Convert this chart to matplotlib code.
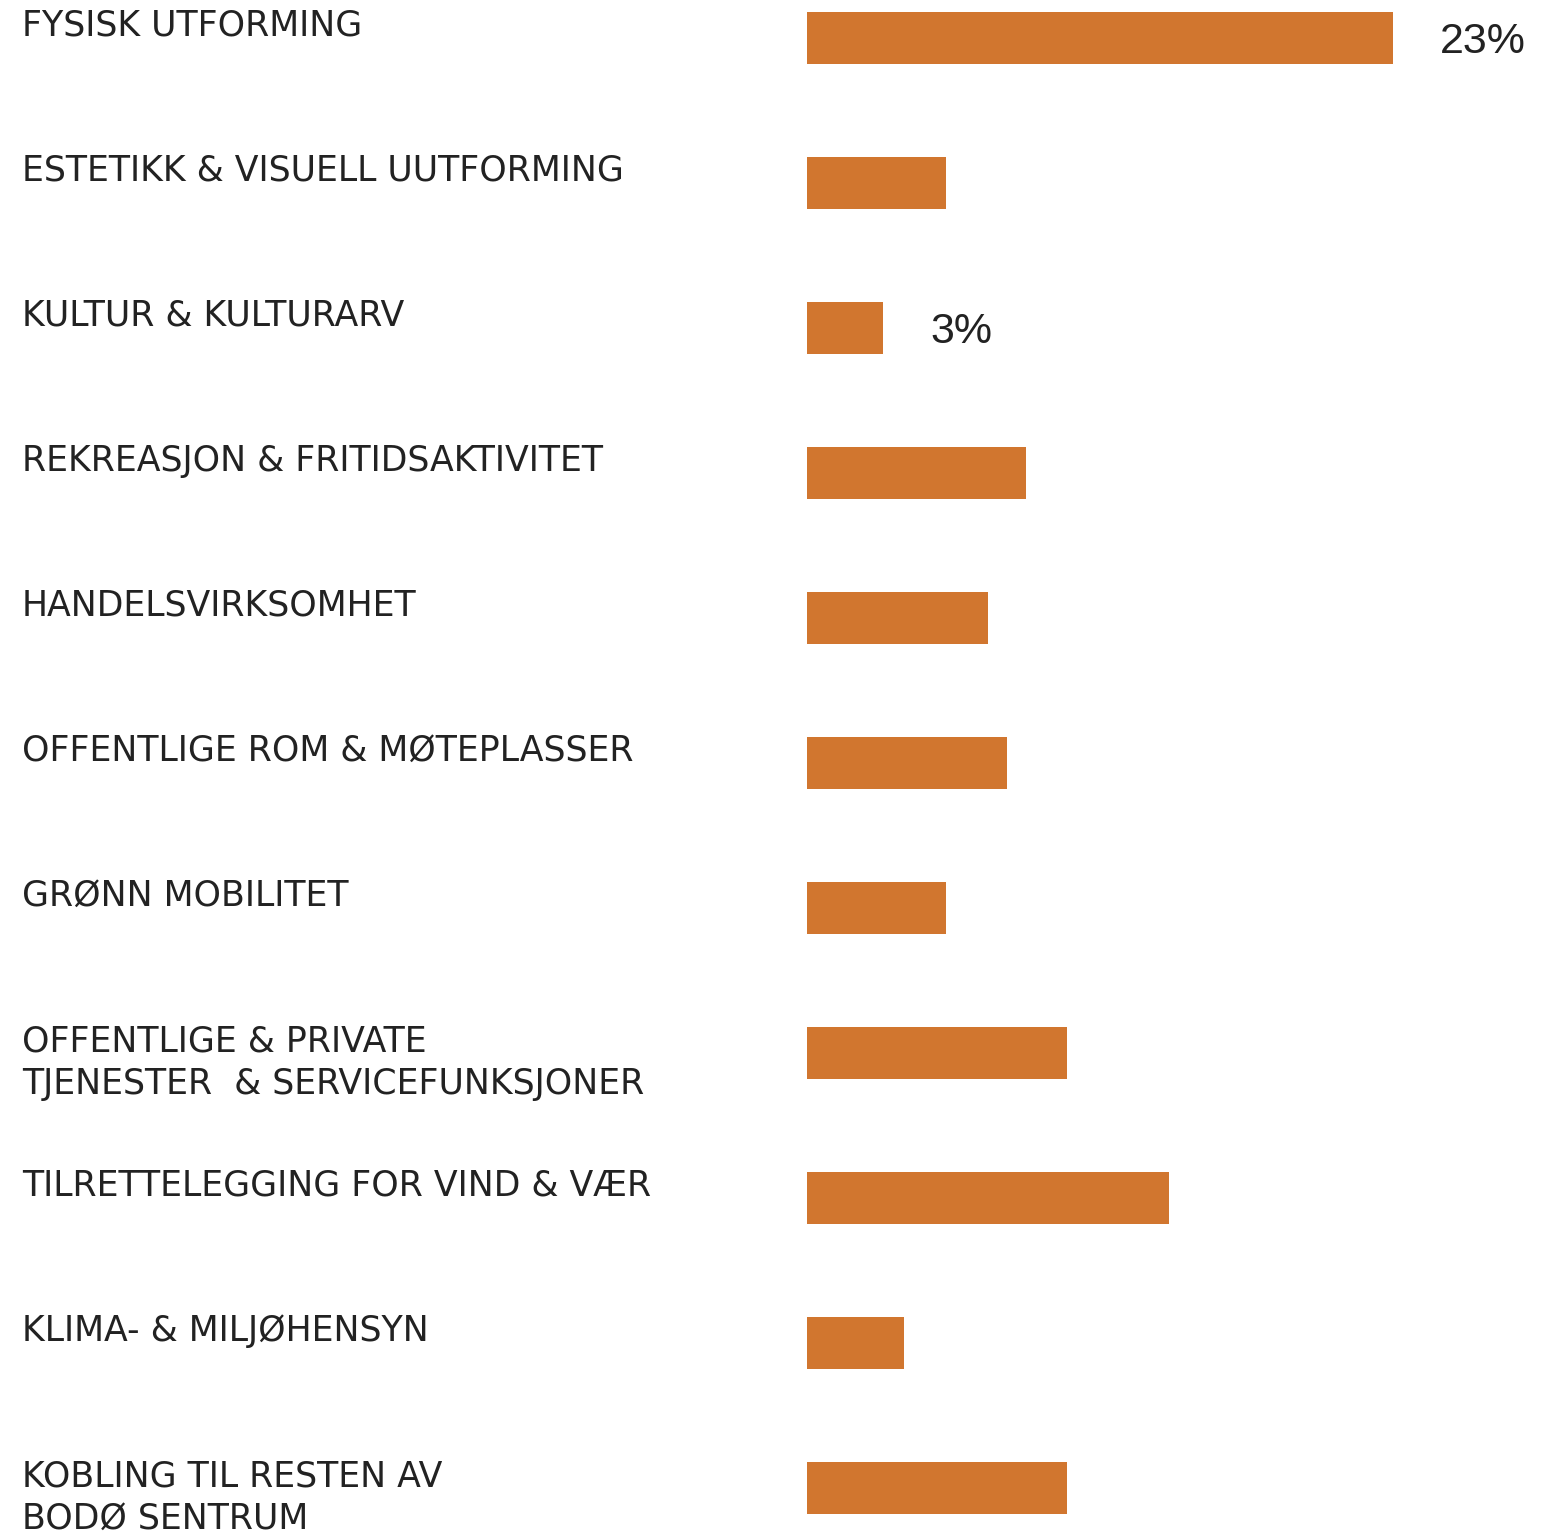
import matplotlib
matplotlib.use("Agg")
import matplotlib.pyplot as plt
import matplotlib.transforms as mtransforms

categories = [
    "FYSISK UTFORMING",
    "ESTETIKK & VISUELL UUTFORMING",
    "KULTUR & KULTURARV",
    "REKREASJON & FRITIDSAKTIVITET",
    "HANDELSVIRKSOMHET",
    "OFFENTLIGE ROM & MØTEPLASSER",
    "GRØNN MOBILITET",
    "OFFENTLIGE & PRIVATE\nTJENESTER  & SERVICEFUNKSJONER",
    "TILRETTELEGGING FOR VIND & VÆR",
    "KLIMA- & MILJØHENSYN",
    "KOBLING TIL RESTEN AV\nBODØ SENTRUM",
]
values = [23, 5.45, 3, 8.6, 7.1, 7.85, 5.45, 10.2, 14.2, 3.8, 10.2]
shown_labels = {0: "23%", 2: "3%"}

bar_color = "#D1762F"
text_color = "#222222"

W, H = 1560, 1531
fig = plt.figure(figsize=(W / 100, H / 100), dpi=100)

x0 = 807 / W
px_per_unit = 586 / 23
ax = fig.add_axes([x0, 0, 1 - x0, 1])
ax.set_xlim(0, (W - 807) / px_per_unit)
row = 145
top = -38 / row
ax.set_ylim(top + H / row, top)
ax.axis("off")

ypos = list(range(len(categories)))
ax.barh(ypos, values, height=52 / row, color=bar_color, left=0)

trans = mtransforms.blended_transform_factory(fig.transFigure, ax.transData)
for i, lab in enumerate(categories):
    ax.text(22 / W, i - 29 / row, lab, transform=trans, ha="left", va="top",
            fontsize=25, family="DejaVu Sans", color=text_color, linespacing=1.34)

for i, lab in shown_labels.items():
    ax.annotate(lab, (values[i], i + 0.03), xytext=(34, 0), textcoords="offset points",
                ha="left", va="center", fontsize=31, family="Liberation Sans",
                color=text_color)

fig.savefig("out.png", dpi=100)
